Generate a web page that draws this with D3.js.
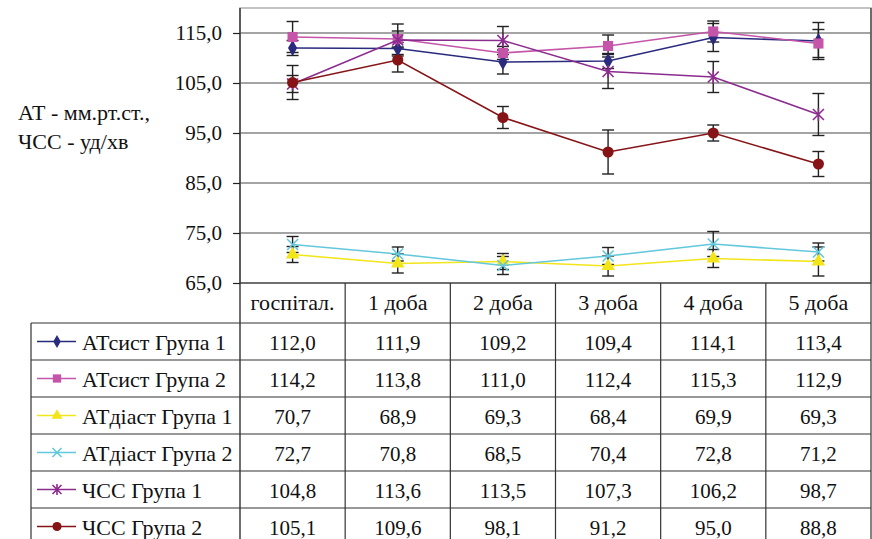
<!DOCTYPE html>
<html>
<head>
<meta charset="utf-8">
<script src="https://cdn.jsdelivr.net/npm/d3@7"></script>
<style>
  body { margin: 0; background: #fff; }
  svg { display: block; }
  svg text { font-family: "Liberation Serif", "Times New Roman", "DejaVu Serif", serif !important; fill: #111; }
</style>
</head>
<body>
<svg width="872" height="539"></svg>
<script>
// categories (days)
const days = ['госпітал.', '1 доба', '2 доба', '3 доба', '4 доба', '5 доба'];

// series names
const names = ['АТсист Група 1', 'АТсист Група 2', 'АТдіаст Група 1', 'АТдіаст Група 2', 'ЧСС Група 1', 'ЧСС Група 2'];

// values
const sys1 = [112.0, 111.9, 109.2, 109.4, 114.1, 113.4];
const sys2 = [114.2, 113.8, 111.0, 112.4, 115.3, 112.9];
const dia1 = [70.7, 68.9, 69.3, 68.4, 69.9, 69.3];
const dia2 = [72.7, 70.8, 68.5, 70.4, 72.8, 71.2];
const hr1 = [104.8, 113.6, 113.5, 107.3, 106.2, 98.7];
const hr2 = [105.1, 109.6, 98.1, 91.2, 95.0, 88.8];

// error bar half-widths
const sys1Err = [1.5, 1.2, 2.4, 1.5, 2.8, 3.7];
const sys2Err = [3.1, 1.6, 1.3, 2.2, 2.1, 2.8];
const dia1Err = [1.6, 1.9, 1.6, 2.0, 1.8, 2.9];
const dia2Err = [1.6, 1.4, 1.8, 1.7, 2.5, 1.8];
const hr1Err = [1.7, 3.2, 2.8, 3.4, 3.1, 4.2];
const hr2Err = [3.4, 2.4, 2.2, 4.4, 1.6, 2.5];

const yTicks = [65, 75, 85, 95, 105, 115];

const colors = ['#2a2a7e', '#c455a9', '#f2e51a', '#63c8dc', '#8b2c8f', '#861417'];
const markers = ['diamond', 'square', 'triangle', 'x', 'star', 'circle'];

const series = [sys1, sys2, dia1, dia2, hr1, hr2].map(function (v, i) {
    return {
        name: names[i],
        values: v,
        err: [sys1Err, sys2Err, dia1Err, dia2Err, hr1Err, hr2Err][i],
        color: colors[i],
        marker: markers[i]
    };
});

const svg = d3.select('svg');

const plotLeft = 240, plotRight = 871, plotTop = 8, plotBottom = 283;
const tableLeft = 31, rowH = 37, headerBottom = 323;
const numSize = '21px';
const labelSize = '22px';

const x = d3.scaleBand().domain(days).range([plotLeft, plotRight]);
const y = d3.scaleLinear().domain([65, 120]).range([plotBottom, plotTop]);

const fmt = function (v) { return d3.format('.1f')(v).replace('.', ','); };

// gridlines
svg.append('g')
    .selectAll('line')
    .data(yTicks)
    .join('line')
    .attr('x1', plotLeft).attr('x2', plotRight)
    .attr('y1', function (d) { return y(d); })
    .attr('y2', function (d) { return y(d); })
    .style('stroke', '#4a4a4a')
    .style('stroke-width', 1.2);

// plot border
svg.append('rect')
    .attr('x', plotLeft).attr('y', plotTop)
    .attr('width', plotRight - plotLeft).attr('height', plotBottom - plotTop)
    .style('fill', 'none')
    .style('stroke', '#b0b0b0')
    .style('stroke-width', 1.5);

// y axis
const yAxis = d3.axisLeft(y).tickValues(yTicks).tickSize(7).tickPadding(11).tickFormat(fmt);
const yg = svg.append('g')
    .attr('transform', 'translate(' + plotLeft + ',0)')
    .call(yAxis)
    .attr('font-family', null)
    .attr('font-size', null);
yg.select('.domain').remove();
yg.selectAll('.tick line').style('stroke', '#222').style('stroke-width', 1.2);
yg.selectAll('.tick text')
    .style('font-size', numSize)
    .style('fill', '#111');

svg.append('line')
    .attr('x1', plotLeft).attr('x2', plotLeft)
    .attr('y1', plotTop).attr('y2', 545)
    .style('stroke', '#222').style('stroke-width', 1.3);

// y label
svg.append('text').attr('x', 18).attr('y', 120).style('font-size', labelSize).text('АТ - мм.рт.ст.,');
svg.append('text').attr('x', 18).attr('y', 149).style('font-size', labelSize).text('ЧСС - уд/хв');

// marker shapes
function markerPath(type, size) {
    if (type === 'diamond') return d3.symbol(d3.symbolDiamond, size * size * 0.6)();
    if (type === 'square') return d3.symbol(d3.symbolSquare, size * size * 0.85)();
    if (type === 'triangle') return d3.symbol(d3.symbolTriangle, size * size * 0.65)();
    if (type === 'circle') return d3.symbol(d3.symbolCircle, size * size * 0.8)();
    const h = size / 2;
    if (type === 'x') return 'M' + (-h) + ',' + (-h) + 'L' + h + ',' + h + 'M' + (-h) + ',' + h + 'L' + h + ',' + (-h);
    // star
    return 'M' + (-h) + ',' + (-h) + 'L' + h + ',' + h + 'M' + (-h) + ',' + h + 'L' + h + ',' + (-h) +
        'M0,' + (-h * 1.2) + 'L0,' + (h * 1.2);
}

function drawMarker(g, type, color, size) {
    const p = g.append('path').attr('d', markerPath(type, size));
    if (type === 'x' || type === 'star') {
        p.style('fill', 'none').style('stroke', color).style('stroke-width', 1.6);
    } else {
        p.style('fill', color).style('stroke', 'none');
    }
}

const cx = function (i) { return x(days[i]) + x.bandwidth() / 2; };

// error bars
const errG = svg.append('g');
series.forEach(function (s) {
    s.values.forEach(function (v, i) {
        const px = cx(i);
        const y1 = y(v + s.err[i]), y2 = y(v - s.err[i]);
        errG.append('line').attr('x1', px).attr('x2', px).attr('y1', y1).attr('y2', y2)
            .style('stroke', '#222').style('stroke-width', 1.4);
        [y1, y2].forEach(function (yy) {
            errG.append('line').attr('x1', px - 6).attr('x2', px + 6).attr('y1', yy).attr('y2', yy)
                .style('stroke', '#222').style('stroke-width', 1.4);
        });
    });
});

// lines and markers
const line = d3.line()
    .x(function (d, i) { return cx(i); })
    .y(function (d) { return y(d); });

series.forEach(function (s) {
    svg.append('path')
        .datum(s.values)
        .attr('d', line)
        .style('fill', 'none')
        .style('stroke', s.color)
        .style('stroke-width', 1.6);
    s.values.forEach(function (v, i) {
        const g = svg.append('g').attr('transform', 'translate(' + cx(i) + ',' + y(v) + ')');
        drawMarker(g, s.marker, s.color, 11);
    });
});

// data table
const tableG = svg.append('g');
const tableLine = function (x1, y1, x2, y2) {
    tableG.append('line').attr('x1', x1).attr('y1', y1).attr('x2', x2).attr('y2', y2)
        .style('stroke', '#333').style('stroke-width', 1.2);
};

// x axis line / table top
tableLine(plotLeft, plotBottom, plotRight, plotBottom);
// column separators
days.forEach(function (d, i) {
    if (i > 0) tableLine(x(d), plotBottom, x(d), 545);
});
tableLine(plotRight, plotTop, plotRight, 545);
tableLine(tableLeft, headerBottom, tableLeft, 545);

// header labels
days.forEach(function (d, i) {
    tableG.append('text')
        .attr('x', cx(i)).attr('y', 310)
        .attr('text-anchor', 'middle')
        .style('font-size', labelSize)
        .text(d);
});

series.forEach(function (s, r) {
    const top = headerBottom + r * rowH;
    const mid = top + rowH / 2;
    tableLine(tableLeft, top, plotRight, top);
    // legend key
    tableG.append('line').attr('x1', 37).attr('x2', 76).attr('y1', mid).attr('y2', mid)
        .style('stroke', s.color).style('stroke-width', 1.6);
    const g = tableG.append('g').attr('transform', 'translate(57,' + mid + ')');
    drawMarker(g, s.marker, s.color, 9);
    tableG.append('text').attr('x', 82).attr('y', mid + 8).style('font-size', labelSize).text(s.name);
    s.values.forEach(function (v, i) {
        tableG.append('text')
            .attr('x', cx(i)).attr('y', mid + 8)
            .attr('text-anchor', 'middle')
            .style('font-size', numSize)
            .text(fmt(v));
    });
});
tableLine(tableLeft, headerBottom + 6 * rowH, plotRight, headerBottom + 6 * rowH);
</script>
</body>
</html>
